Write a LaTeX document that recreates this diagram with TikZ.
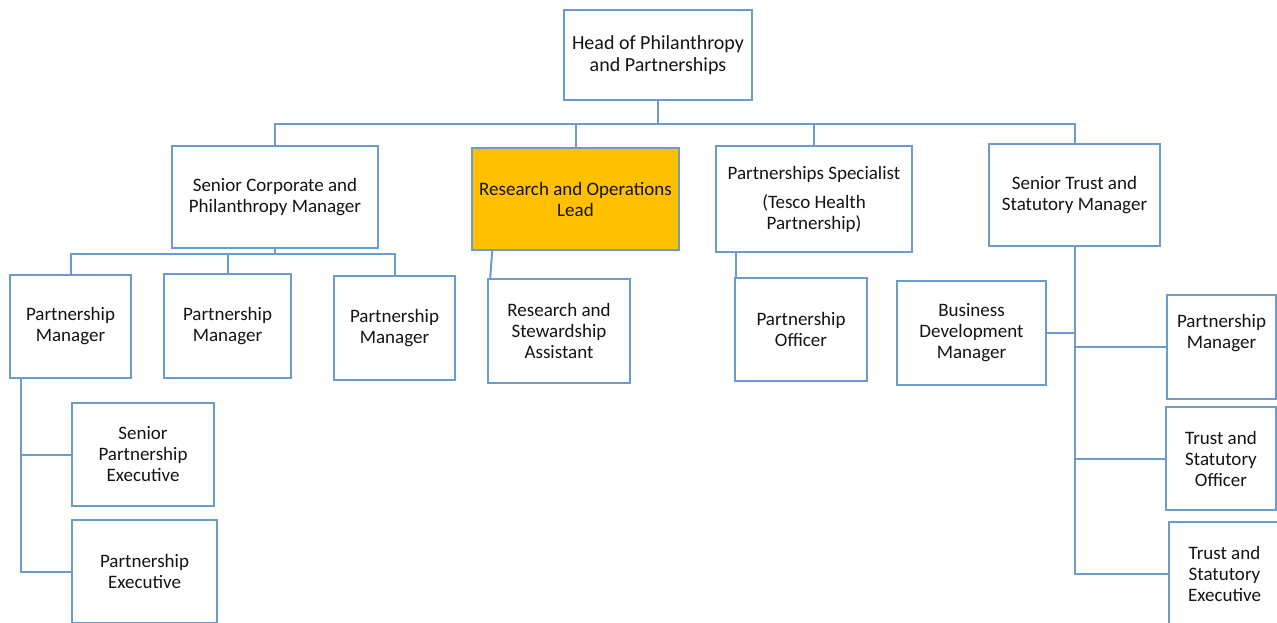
\documentclass[tikz,border=0pt]{standalone}
\usepackage{fontspec}
\setmainfont{Carlito}
\usetikzlibrary{calc}
\definecolor{lineblue}{RGB}{108,155,205}
\definecolor{leadfill}{RGB}{255,192,0}
\definecolor{txtcol}{RGB}{20,20,20}
\begin{document}
\begin{tikzpicture}[x=1pt,y=-1pt,
  box/.style={draw=lineblue,line width=1.6pt,fill=white,inner sep=0pt,align=center,text=txtcol,
    font=\fontsize{19}{21}\selectfont},
  txt/.style={inner sep=0pt,align=center,text=txtcol,font=\fontsize{19}{21}\selectfont},
  conn/.style={draw=lineblue,line width=2pt}]
\useasboundingbox (0,0) rectangle (1277,623);
% boxes: center (x,y), width, height
\node[box,minimum width=188,minimum height=90,font=\fontsize{20}{22}\selectfont] (head) at (658,55) {Head of Philanthropy\\and Partnerships};
\node[box,minimum width=206,minimum height=102] (sc) at (275,197) {Senior Corporate and\\Philanthropy Manager};
\node[box,minimum width=207,minimum height=102,fill=leadfill] (rol) at (575.5,199) {Research and Operations\\Lead};
\node[box,minimum width=196,minimum height=106] (ps) at (814,199) {Partnerships Specialist\\[8pt](Tesco Health\\Partnership)};
\node[box,minimum width=171,minimum height=102] (st) at (1074.5,195) {Senior Trust and\\Statutory Manager};
\node[box,minimum width=121,minimum height=103] (pm1) at (70.5,326.5) {Partnership\\Manager};
\node[box,minimum width=127,minimum height=104] (pm2) at (227.5,326) {Partnership\\Manager};
\node[box,minimum width=121,minimum height=104] (pm3) at (394.5,328) {Partnership\\Manager};
\node[box,minimum width=142,minimum height=104] (rsa) at (559,331) {Research and\\Stewardship\\Assistant};
\node[box,minimum width=132,minimum height=103] (po) at (801,329.5) {Partnership\\Officer};
\node[box,minimum width=149,minimum height=104] (bdm) at (971.5,333) {Business\\Development\\Manager};
\node[box,minimum width=109,minimum height=104] (pmr) at (1221.5,347) {};
\node[txt] (pmrt) at (1221.5,333.5) {Partnership\\Manager};
\node[box,minimum width=110,minimum height=103] (tso) at (1221,458.5) {Trust and\\Statutory\\Officer};
\node[box,minimum width=111,minimum height=104] (tse) at (1224.5,574) {Trust and\\Statutory\\Executive};
\node[box,minimum width=142,minimum height=103] (spe) at (143,454.5) {Senior\\Partnership\\Executive};
\node[box,minimum width=145,minimum height=103] (pe) at (144.5,571.5) {Partnership\\Executive};
% top level connectors
\coordinate (bus) at ($(head.south)+(0,23)$);
\draw[conn] (head.south) -- (bus);
\draw[conn] (sc.north) |- (bus) -| (st.north);
\draw[conn] (rol.north) -- (rol.north |- bus);
\draw[conn] (ps.north) -- (ps.north |- bus);
% senior corporate
\coordinate (scb) at ($(sc.south)+(0,5)$);
\draw[conn] (sc.south) -- (scb);
\draw[conn] (pm1.north) |- (scb) -| (pm3.north);
\draw[conn] (pm2.north) -- (pm2.north |- scb);
% research lead
\draw[conn] ($(rol.south west)+(21,0)$) -- ($(rsa.north west)+(3,0)$);
% partnerships specialist
\draw[conn] ([xshift=2pt]ps.south -| po.west) -- ([xshift=2pt]po.north west);
% senior trust
\draw[conn] (st.south) |- (tse.west);
\draw[conn] (bdm.east) -- (bdm.east -| st.south);
\draw[conn] (pmr.west) -- (pmr.west -| st.south);
\draw[conn] (tso.west) -- (tso.west -| st.south);
% partnership manager 1
\coordinate (pmx) at ($(pm1.south west)+(12,0)$);
\draw[conn] (pmx) |- (pe.west);
\draw[conn] (spe.west) -- (spe.west -| pmx);
\end{tikzpicture}
\end{document}
